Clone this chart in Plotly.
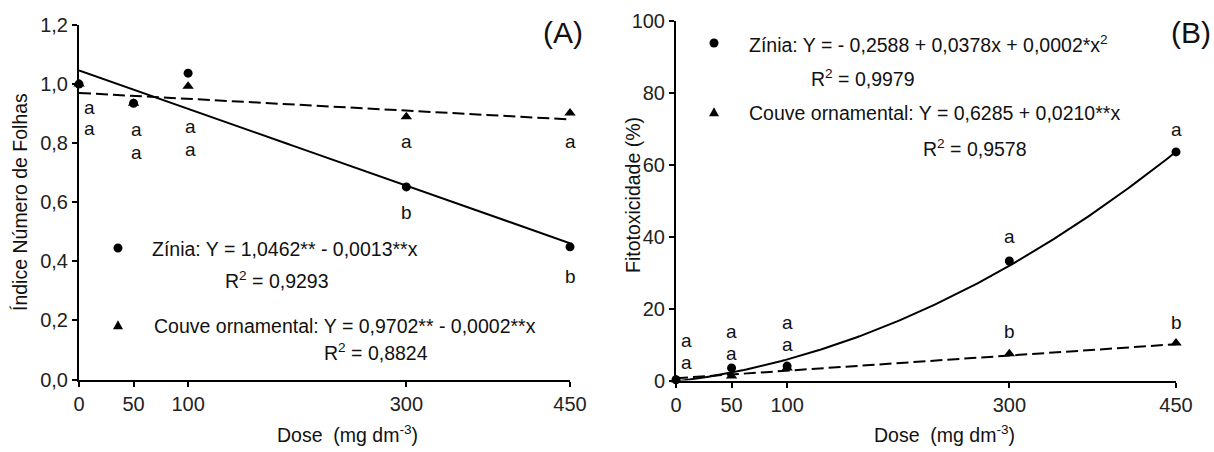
import numpy as np
import plotly.graph_objects as go

# ---------------- data ----------------
doses = [0, 50, 100, 300, 450]

# Panel A - Índice Número de Folhas
zinia_A = [1.0, 0.935, 1.037, 0.652, 0.449]
couve_A = [1.0, 0.935, 0.993, 0.889, 0.902]
coef_zinia_A = [1.0462, -0.0013]
coef_couve_A = [0.9702, -0.0002]

# Panel B - Fitotoxicidade (%)
zinia_B = [0.2, 3.5, 4.0, 33.2, 63.5]
couve_B = [0.2, 1.25, 3.5, 7.4, 10.4]
coef_zinia_B = [-0.2588, 0.0378, 0.000231]
coef_couve_B = [0.6285, 0.0210]

# significance letters (upper, lower) per dose
letters_A_up = ["a", "a", "a", "a", "a"]
letters_A_low = ["a", "a", "a", "b", "b"]
letters_B_up = ["a", "a", "a", "a", "a"]
letters_B_low = ["a", "a", "a", "b", "b"]

yticks_A = [0, 0.2, 0.4, 0.6, 0.8, 1.0, 1.2]
yticktext_A = ["0,0", "0,2", "0,4", "0,6", "0,8", "1,0", "1,2"]
yticks_B = [0, 20, 40, 60, 80, 100]
xticks = [0, 50, 100, 300, 450]

# ---------------- layout helpers ----------------
W, H = 1214, 452
def px(x):
    return x / W
def py(y):
    return (H - y) / H

FONT = "Arial, 'Liberation Sans', sans-serif"

# letter anchor positions (data coords)
lpos_A_x = [10, 53, 102, 300, 450]
lpos_A_up = [0.922, 0.845, 0.858, 0.804, 0.804]
lpos_A_low = [0.848, 0.767, 0.780, 0.567, 0.347]
lpos_B_x = [9, 50, 100, 300, 450]
lpos_B_up = [11.0, 13.75, 16.25, 39.9, 69.6]
lpos_B_low = [4.9, 7.6, 9.9, 13.5, 16.25]

xfit = np.linspace(0, 450, 200)
def poly(c, x):
    return sum(ci * x ** i for i, ci in enumerate(c))

fig = go.Figure()

line_solid = dict(color="black", width=2)
line_dash = dict(color="black", width=2, dash="12px,5px")

# Panel A
fig.add_trace(go.Scatter(x=xfit, y=poly(coef_couve_A, xfit), mode="lines", line=line_dash,
                         xaxis="x", yaxis="y", cliponaxis=False, showlegend=False))
fig.add_trace(go.Scatter(x=xfit, y=poly(coef_zinia_A, xfit), mode="lines", line=line_solid,
                         xaxis="x", yaxis="y", cliponaxis=False, showlegend=False))
fig.add_trace(go.Scatter(x=doses, y=couve_A, mode="markers",
                         marker=dict(symbol="triangle-up", size=10, color="black"),
                         xaxis="x", yaxis="y", cliponaxis=False, showlegend=False))
fig.add_trace(go.Scatter(x=doses, y=zinia_A, mode="markers",
                         marker=dict(symbol="circle", size=9, color="black"),
                         xaxis="x", yaxis="y", cliponaxis=False, showlegend=False))

# Panel B
fig.add_trace(go.Scatter(x=xfit, y=poly(coef_couve_B, xfit), mode="lines", line=line_dash,
                         xaxis="x2", yaxis="y2", cliponaxis=False, showlegend=False))
fig.add_trace(go.Scatter(x=xfit, y=poly(coef_zinia_B, xfit), mode="lines", line=line_solid,
                         xaxis="x2", yaxis="y2", cliponaxis=False, showlegend=False))
fig.add_trace(go.Scatter(x=doses, y=couve_B, mode="markers",
                         marker=dict(symbol="triangle-up", size=10, color="black"),
                         xaxis="x2", yaxis="y2", cliponaxis=False, showlegend=False))
fig.add_trace(go.Scatter(x=doses, y=zinia_B, mode="markers",
                         marker=dict(symbol="circle", size=9, color="black"),
                         xaxis="x2", yaxis="y2", cliponaxis=False, showlegend=False))

axis_common = dict(showline=True, linecolor="black", linewidth=2, ticks="outside",
                   ticklen=5, tickwidth=1.5, tickcolor="black", showgrid=False,
                   zeroline=False, mirror=False, automargin=False,
                   tickfont=dict(family=FONT, size=20, color="#222"))

fig.update_layout(
    width=W, height=H, autosize=False,
    margin=dict(l=0, r=0, t=0, b=0, pad=0, autoexpand=False),
    paper_bgcolor="white", plot_bgcolor="white", showlegend=False,
    xaxis=dict(axis_common, domain=[px(79), px(570)], range=[0, 450],
               tickvals=xticks, anchor="y"),
    yaxis=dict(axis_common, domain=[py(379.5), py(25)], range=[0, 1.2],
               tickvals=yticks_A, ticktext=yticktext_A, anchor="x"),
    xaxis2=dict(axis_common, domain=[px(676), px(1176)], range=[0, 450],
                tickvals=xticks, anchor="y2"),
    yaxis2=dict(axis_common, domain=[py(380.5), py(20.5)], range=[0, 100],
                tickvals=yticks_B, anchor="x2"),
)

annotations = []
def txt(x, y, text, size=19.5, xanchor="left", angle=0, yanchor="middle"):
    annotations.append(dict(x=px(x), y=py(y), xref="paper", yref="paper", text=text,
                            showarrow=False, xanchor=xanchor, yanchor=yanchor,
                            textangle=angle,
                            font=dict(family=FONT, size=size, color="#111")))

# axis titles
txt(347, 434, "Dose  (mg dm<sup>-3</sup>)", size=19.5, xanchor="center")
txt(944, 434, "Dose  (mg dm<sup>-3</sup>)", size=19.5, xanchor="center")
txt(20, 202, "Índice Número de Folhas", size=19.5, xanchor="center", angle=-90)
txt(633, 195, "Fitotoxicidade (%)", size=19.5, xanchor="center", angle=-90)

# panel labels
txt(563, 33, "(A)", size=30, xanchor="center")
txt(1191, 33, "(B)", size=30, xanchor="center")

# equations panel A
txt(150, 249, "Zínia: Y = 1,0462** - 0,0013**x")
txt(223, 280, "R<sup>2</sup> = 0,9293")
txt(152, 326, "Couve ornamental: Y = 0,9702** - 0,0002**x")
txt(322, 352, "R<sup>2</sup> = 0,8824")

# equations panel B
txt(747, 44, "Zínia: Y = - 0,2588 + 0,0378x + 0,0002*x<sup>2</sup>")
txt(809, 78, "R<sup>2</sup> = 0,9979")
txt(747, 113, "Couve ornamental: Y = 0,6285 + 0,0210**x")
txt(921, 148, "R<sup>2</sup> = 0,9578")

# significance letters
for xs, ups, lows, lu, ll, xr, yr in [
    (lpos_A_x, lpos_A_up, lpos_A_low, letters_A_up, letters_A_low, "x", "y"),
    (lpos_B_x, lpos_B_up, lpos_B_low, letters_B_up, letters_B_low, "x2", "y2"),
]:
    for xv, yu, yl, tu, tl in zip(xs, ups, lows, lu, ll):
        for yv, t in ((yu, tu), (yl, tl)):
            annotations.append(dict(x=xv, y=yv, xref=xr, yref=yr, text=t, showarrow=False,
                                    xanchor="center", yanchor="middle",
                                    font=dict(family=FONT, size=19, color="#111")))

fig.update_layout(annotations=annotations)

# legend symbols (shapes in paper coords)
shapes = []
def circle(cx, cy, r=4.5):
    shapes.append(dict(type="circle", xref="paper", yref="paper",
                       x0=px(cx - r), x1=px(cx + r), y0=py(cy + r), y1=py(cy - r),
                       fillcolor="black", line=dict(width=0)))
def triangle(cx, cy, s=5):
    path = (f"M {px(cx - s)} {py(cy + s * 0.85)} L {px(cx + s)} {py(cy + s * 0.85)} "
            f"L {px(cx)} {py(cy - s * 0.95)} Z")
    shapes.append(dict(type="path", xref="paper", yref="paper", path=path,
                       fillcolor="black", line=dict(width=0)))

circle(118, 248)
triangle(118, 325)
circle(714, 43)
triangle(714, 112)
fig.update_layout(shapes=shapes)

fig.write_html(
    "out.html",
    post_script="document.documentElement.style.margin='0';"
                "document.body.style.margin='0';document.body.style.padding='0';"
                "document.body.style.overflow='hidden';",
)
